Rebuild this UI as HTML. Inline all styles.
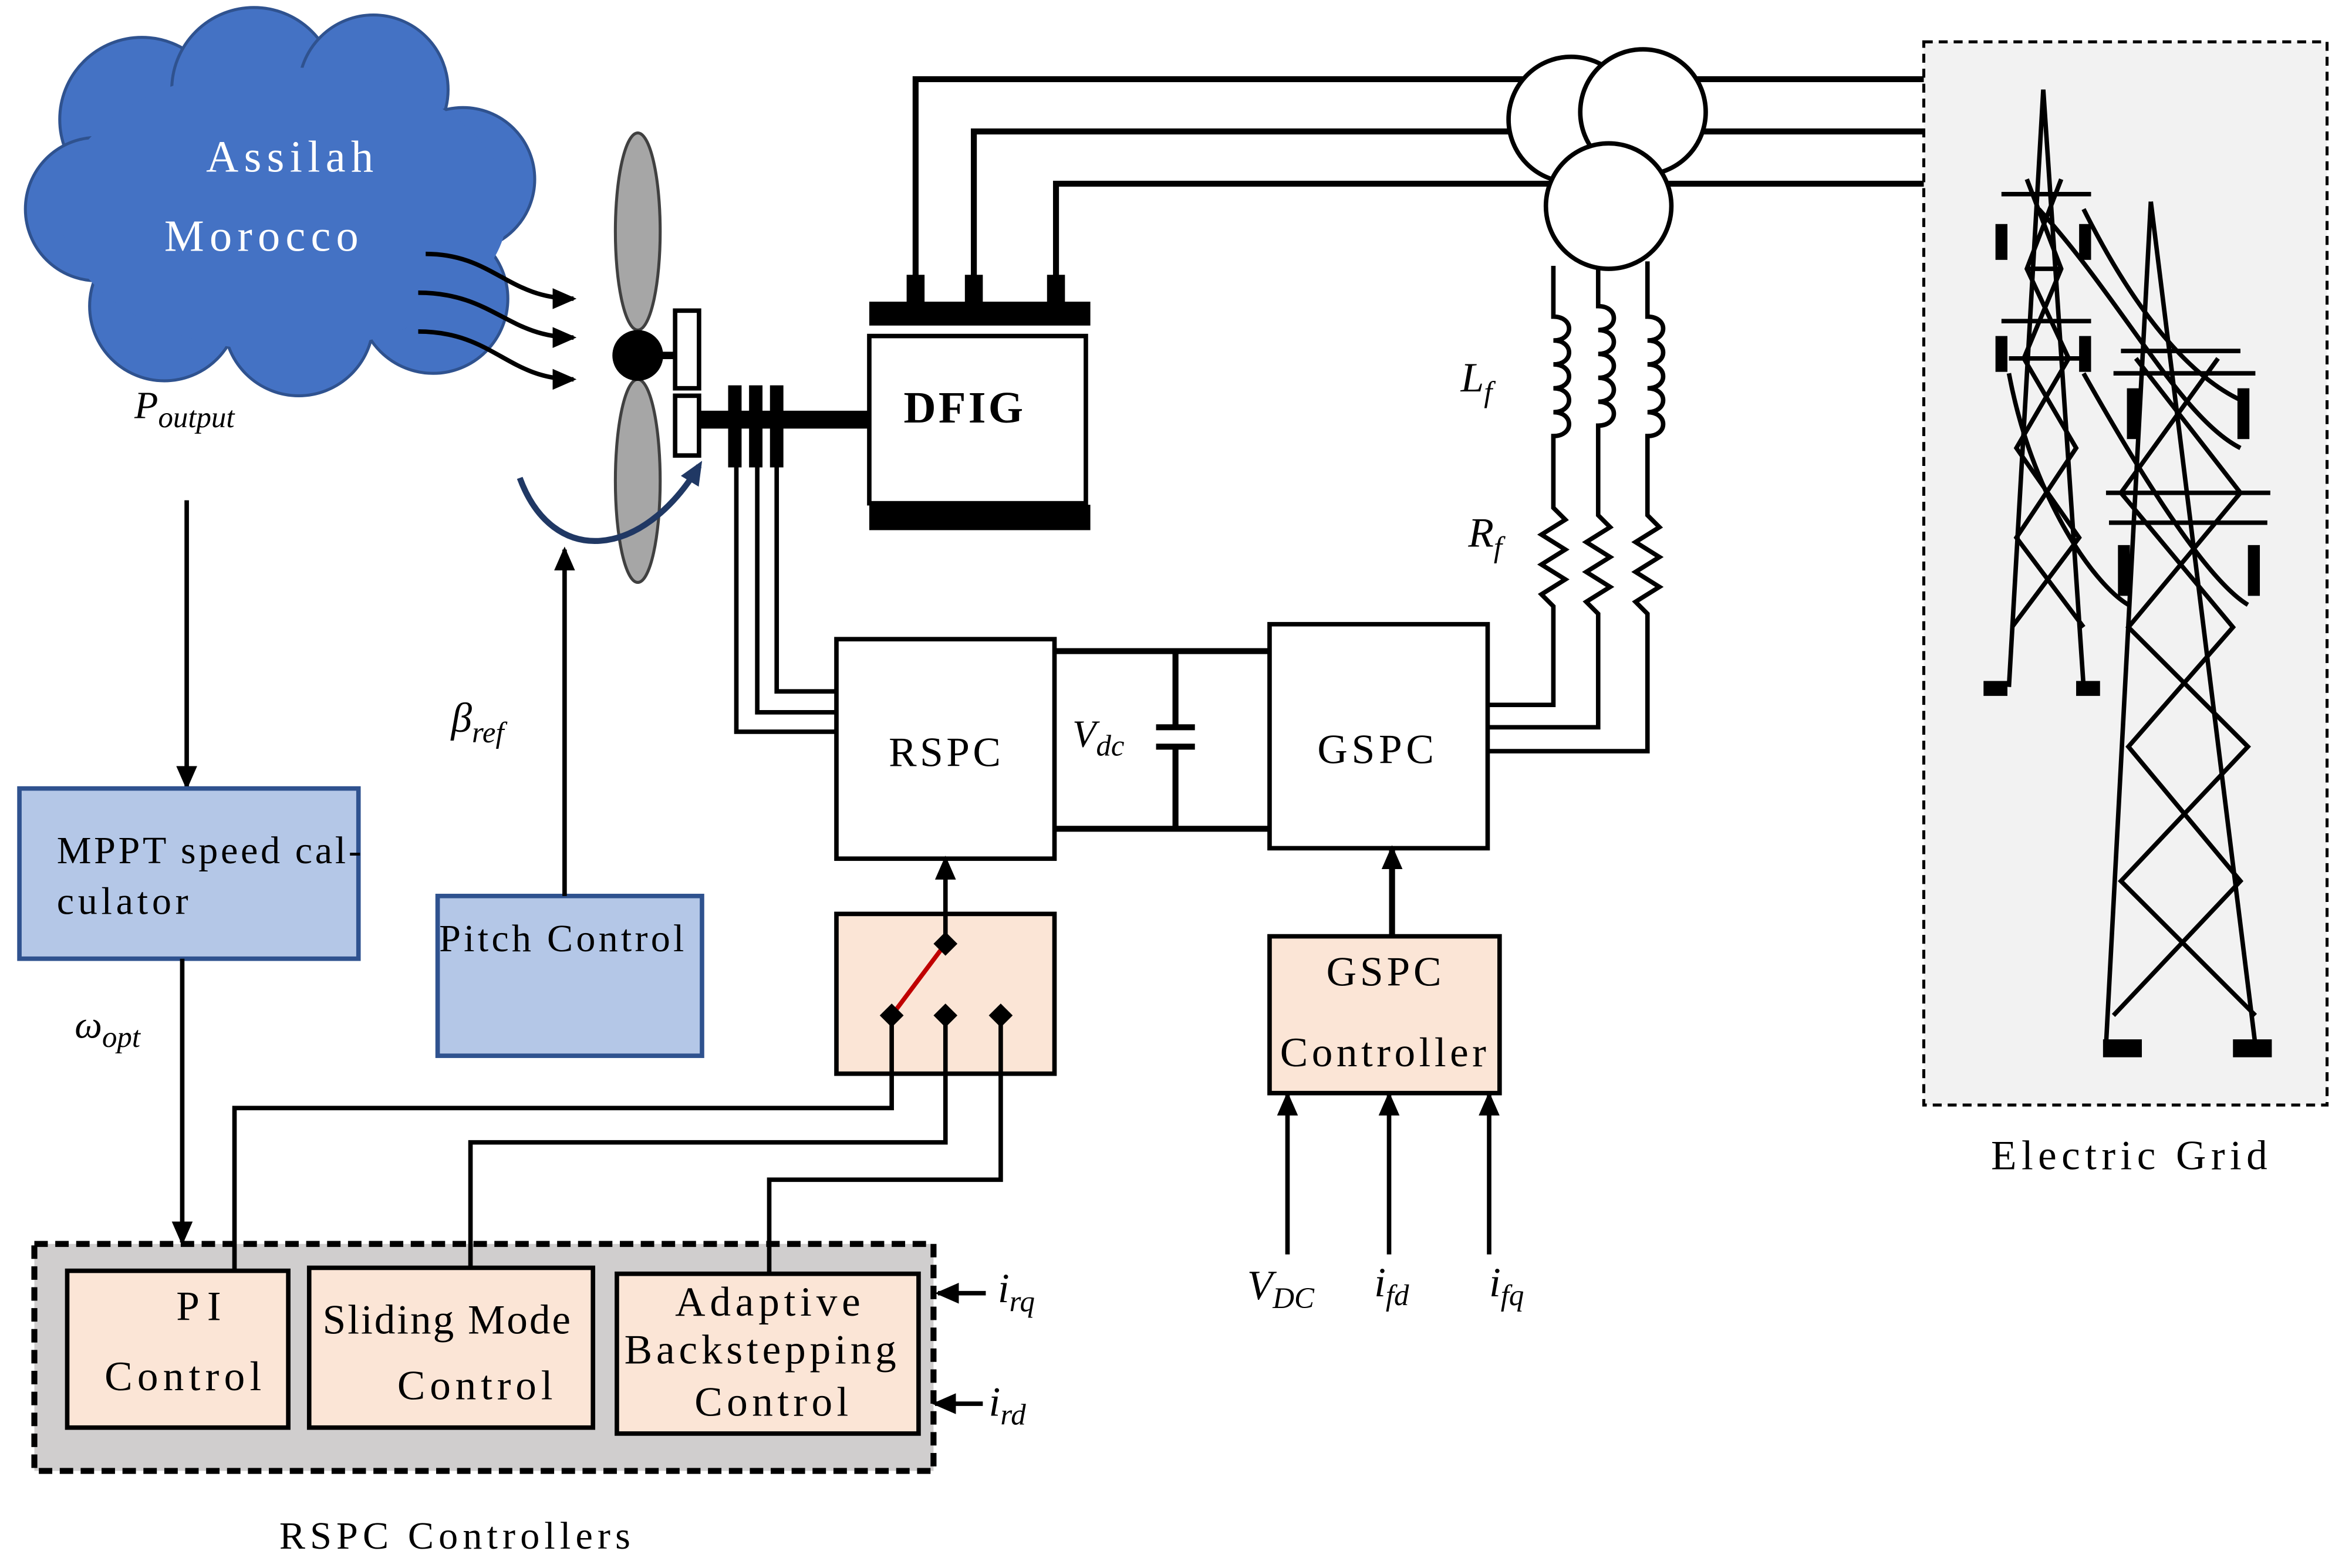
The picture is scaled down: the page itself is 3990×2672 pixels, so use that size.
<!DOCTYPE html>
<html><head><meta charset="utf-8"><style>
html,body{margin:0;padding:0;background:#fff;}
svg{display:block;}
text{font-family:"Liberation Serif",serif;fill:#000;}
.it{font-style:italic;}
</style></head><body>
<svg width="3990" height="2672" viewBox="0 0 1568 1050" xmlns="http://www.w3.org/2000/svg">
<defs>
<marker id="ah" markerWidth="16" markerHeight="14" refX="14" refY="7" orient="auto" markerUnits="userSpaceOnUse"><path d="M0,0 L16,7 L0,14 Z" fill="#000"/></marker>
<marker id="ahb" markerWidth="16" markerHeight="14" refX="12" refY="7" orient="auto" markerUnits="userSpaceOnUse"><path d="M0,0 L16,7 L0,14 Z" fill="#203864"/></marker>
</defs>
<!-- cloud -->
<g fill="#4472c4" stroke="#2f528f" stroke-width="2">
<circle cx="95" cy="80" r="55"/><circle cx="170" cy="60" r="55"/><circle cx="250" cy="60" r="50"/><circle cx="310" cy="120" r="48"/>
<circle cx="290" cy="200" r="50"/><circle cx="200" cy="215" r="50"/><circle cx="110" cy="205" r="50"/><circle cx="65" cy="140" r="48"/>
</g>
<ellipse cx="190" cy="140" rx="150" ry="95" fill="#4472c4"/>
<text x="138" y="115" font-size="30" textLength="112" style="fill:#fff">Assilah</text>
<text x="110" y="168" font-size="30" textLength="130" style="fill:#fff">Morocco</text>
<g fill="none" stroke="#000" stroke-width="3" marker-end="url(#ah)">
<path d="M285,170 C330,170 340,200 384,200"/>
<path d="M280,196 C330,196 340,226 384,226"/>
<path d="M280,222 C330,222 340,254 384,254"/>
</g>
<text x="90" y="280" font-size="26" class="it">P<tspan font-size="20" dy="6">output</tspan></text>
<line x1="125" y1="335" x2="125" y2="527" stroke="#000" stroke-width="3" marker-end="url(#ah)"/>
<rect x="13" y="528" width="227" height="114" fill="#b4c7e7" stroke="#2f528f" stroke-width="3"/>
<text x="38" y="578" font-size="26" textLength="204">MPPT speed cal-</text>
<text x="38" y="612" font-size="26" textLength="88">culator</text>
<text x="50" y="695" font-size="26" class="it">ω<tspan font-size="20" dy="6">opt</tspan></text>
<line x1="122" y1="642" x2="122" y2="832" stroke="#000" stroke-width="3" marker-end="url(#ah)"/>
<rect x="293" y="600" width="177" height="107" fill="#b4c7e7" stroke="#2f528f" stroke-width="3"/>
<text x="294" y="637" font-size="26" textLength="164">Pitch Control</text>
<line x1="378" y1="600" x2="378" y2="368" stroke="#000" stroke-width="3" marker-end="url(#ah)"/>
<text x="302" y="490" font-size="28" class="it">β<tspan font-size="20" dy="7">ref</tspan></text>
<!-- turbine -->
<ellipse cx="427" cy="155" rx="15" ry="66" fill="#a6a6a6" stroke="#404040" stroke-width="2"/>
<ellipse cx="427" cy="322" rx="15" ry="68" fill="#a6a6a6" stroke="#404040" stroke-width="2"/>
<circle cx="427" cy="238" r="17" fill="#000"/>
<line x1="440" y1="238" x2="455" y2="238" stroke="#000" stroke-width="5"/>
<rect x="452" y="208" width="16" height="52" fill="#fff" stroke="#000" stroke-width="3"/>
<rect x="452" y="265" width="16" height="40" fill="#fff" stroke="#000" stroke-width="3"/>
<path d="M348,320 C370,380 430,375 468,312" fill="none" stroke="#203864" stroke-width="4" marker-end="url(#ahb)"/>
<line x1="468" y1="281" x2="585" y2="281" stroke="#000" stroke-width="12"/>
<g stroke="#000" stroke-width="9"><line x1="492" y1="258" x2="492" y2="313"/><line x1="506" y1="258" x2="506" y2="313"/><line x1="520" y1="258" x2="520" y2="313"/></g>
<g fill="none" stroke="#000" stroke-width="3">
<polyline points="493,312 493,490 560,490"/><polyline points="507,312 507,477 560,477"/><polyline points="520,312 520,463 560,463"/>
</g>
<!-- DFIG -->
<rect x="582" y="225" width="145" height="112" fill="#fff" stroke="#000" stroke-width="3"/>
<rect x="582" y="202" width="148" height="16" fill="#000"/>
<rect x="582" y="338" width="148" height="17" fill="#000"/>
<text x="605" y="283" font-size="30" font-weight="bold" textLength="80">DFIG</text>
<g fill="#000"><rect x="607" y="184" width="12" height="20"/><rect x="646" y="184" width="12" height="20"/><rect x="701" y="184" width="12" height="20"/></g>
<g fill="none" stroke="#000" stroke-width="4">
<polyline points="613,185 613,53 1290,53"/><polyline points="652,185 652,88 1290,88"/><polyline points="707,185 707,123 1290,123"/>
</g>
<g fill="#fff" stroke="#000" stroke-width="3">
<circle cx="1052" cy="80" r="42"/><circle cx="1100" cy="75" r="42"/><circle cx="1077" cy="138" r="42"/>
</g>
<!-- grid box -->
<rect x="1288" y="28" width="270" height="712" fill="#f2f2f2" stroke="#000" stroke-width="2" stroke-dasharray="6,4"/>
<text x="1333" y="783" font-size="28" textLength="185">Electric Grid</text>
<!-- towers -->
<g fill="none" stroke="#000" stroke-width="3">
<path d="M1368,60 L1345,460 M1368,60 L1395,460 M1358,180 L1380,180 M1340,215 L1400,215 M1345,240 L1395,240"/>
<path d="M1357,120 L1380,180 L1355,240 L1390,300 L1350,360 L1395,420 M1380,120 L1357,180 L1385,240 L1350,300 L1392,360 L1347,420"/>
<line x1="1340" y1="130" x2="1400" y2="130"/>
<path d="M1440,135 L1410,700 M1440,135 L1510,700 M1420,235 L1500,235 M1415,250 L1510,250 M1410,330 L1520,330 M1412,350 L1518,350"/>
<path d="M1430,240 L1500,330 L1425,420 L1505,500 L1420,590 L1510,680 M1485,240 L1420,330 L1495,420 L1425,500 L1500,590 L1415,680"/>
<path d="M1365,140 C1420,200 1460,280 1500,300 M1345,250 C1360,330 1400,390 1425,405 M1395,250 C1440,330 1480,390 1505,405 M1395,140 C1440,230 1480,260 1505,270"/>
</g>
<g fill="#000">
<rect x="1328" y="456" width="16" height="10"/><rect x="1390" y="456" width="16" height="10"/>
<rect x="1408" y="696" width="26" height="12"/><rect x="1495" y="696" width="26" height="12"/>
<rect x="1336" y="150" width="8" height="24"/><rect x="1392" y="150" width="8" height="24"/>
<rect x="1336" y="225" width="8" height="24"/><rect x="1392" y="225" width="8" height="24"/>
<rect x="1424" y="260" width="8" height="34"/><rect x="1498" y="260" width="8" height="34"/>
<rect x="1418" y="365" width="8" height="34"/><rect x="1505" y="365" width="8" height="34"/>
</g>
<!-- filters -->
<g fill="none" stroke="#000" stroke-width="3">
<path d="M1040,178 V212 c14,0 14,16 0,16 c14,0 14,16 0,16 c14,0 14,16 0,16 c14,0 14,16 0,16 c14,0 14,16 0,16 V340 l8,8 l-16,10 l16,10 l-16,10 l16,10 l-16,10 l8,8 V472 H996"/>
<path d="M1070,180 V205 c14,0 14,16 0,16 c14,0 14,16 0,16 c14,0 14,16 0,16 c14,0 14,16 0,16 c14,0 14,16 0,16 V345 l8,8 l-16,10 l16,10 l-16,10 l16,10 l-16,10 l8,8 V487 H996"/>
<path d="M1103,175 V212 c14,0 14,16 0,16 c14,0 14,16 0,16 c14,0 14,16 0,16 c14,0 14,16 0,16 c14,0 14,16 0,16 V345 l8,8 l-16,10 l16,10 l-16,10 l16,10 l-16,10 l8,8 V503 H996"/>
</g>
<text x="978" y="262" font-size="28" class="it">L<tspan font-size="20" dy="7">f</tspan></text>
<text x="983" y="366" font-size="28" class="it">R<tspan font-size="20" dy="7">f</tspan></text>
<!-- converters -->
<rect x="560" y="428" width="146" height="147" fill="#fff" stroke="#000" stroke-width="3"/>
<text x="595" y="513" font-size="28" textLength="75">RSPC</text>
<rect x="850" y="418" width="146" height="150" fill="#fff" stroke="#000" stroke-width="3"/>
<text x="882" y="511" font-size="28" textLength="78">GSPC</text>
<g fill="none" stroke="#000" stroke-width="4">
<line x1="706" y1="436" x2="850" y2="436"/><line x1="706" y1="555" x2="850" y2="555"/>
<line x1="787" y1="436" x2="787" y2="487"/><line x1="787" y1="500" x2="787" y2="555"/>
<line x1="774" y1="487" x2="800" y2="487"/><line x1="774" y1="500" x2="800" y2="500"/>
</g>
<text x="718" y="500" font-size="26" class="it">V<tspan font-size="20" dy="6">dc</tspan></text>
<!-- switch -->
<rect x="560" y="612" width="146" height="107" fill="#fbe5d6" stroke="#000" stroke-width="3"/>
<line x1="633" y1="632" x2="633" y2="575" stroke="#000" stroke-width="3" marker-end="url(#ah)"/>
<line x1="597" y1="680" x2="633" y2="632" stroke="#c00000" stroke-width="3"/>
<g fill="#000"><path d="M633,624 l8,8 l-8,8 l-8,-8z"/><path d="M597,672 l8,8 l-8,8 l-8,-8z"/><path d="M633,672 l8,8 l-8,8 l-8,-8z"/><path d="M670,672 l8,8 l-8,8 l-8,-8z"/></g>
<!-- RSPC controllers -->
<rect x="23" y="833" width="602" height="152" fill="#d0cece" stroke="#000" stroke-width="4" stroke-dasharray="9,5"/>
<rect x="45" y="851" width="148" height="105" fill="#fbe5d6" stroke="#000" stroke-width="3"/>
<rect x="207" y="849" width="190" height="107" fill="#fbe5d6" stroke="#000" stroke-width="3"/>
<rect x="413" y="853" width="202" height="107" fill="#fbe5d6" stroke="#000" stroke-width="3"/>
<g fill="none" stroke="#000" stroke-width="3">
<polyline points="597,680 597,742 157,742 157,851"/>
<polyline points="633,680 633,765 315,765 315,849"/>
<polyline points="670,680 670,790 515,790 515,853"/>
</g>
<text x="118" y="884" font-size="28" textLength="30">PI</text>
<text x="70" y="931" font-size="28" textLength="105">Control</text>
<text x="216" y="893" font-size="28" textLength="166">Sliding Mode</text>
<text x="266" y="937" font-size="28" textLength="104">Control</text>
<text x="452" y="881" font-size="28" textLength="124">Adaptive</text>
<text x="418" y="913" font-size="28" textLength="182">Backstepping</text>
<text x="465" y="948" font-size="28" textLength="103">Control</text>
<text x="187" y="1037" font-size="26" textLength="235">RSPC Controllers</text>
<line x1="660" y1="866" x2="628" y2="866" stroke="#000" stroke-width="3" marker-end="url(#ah)"/>
<line x1="658" y1="940" x2="626" y2="940" stroke="#000" stroke-width="3" marker-end="url(#ah)"/>
<text x="668" y="872" font-size="28" class="it">i<tspan font-size="20" dy="6">rq</tspan></text>
<text x="662" y="948" font-size="28" class="it">i<tspan font-size="20" dy="6">rd</tspan></text>
<!-- GSPC controller -->
<rect x="850" y="627" width="154" height="105" fill="#fbe5d6" stroke="#000" stroke-width="3"/>
<text x="888" y="660" font-size="28" textLength="77">GSPC</text>
<text x="857" y="714" font-size="28" textLength="138">Controller</text>
<line x1="932" y1="627" x2="932" y2="568" stroke="#000" stroke-width="4" marker-end="url(#ah)"/>
<g stroke="#000" stroke-width="3">
<line x1="862" y1="840" x2="862" y2="733" marker-end="url(#ah)"/>
<line x1="930" y1="840" x2="930" y2="733" marker-end="url(#ah)"/>
<line x1="997" y1="840" x2="997" y2="733" marker-end="url(#ah)"/>
</g>
<text x="835" y="870" font-size="28" class="it">V<tspan font-size="20" dy="6">DC</tspan></text>
<text x="920" y="868" font-size="28" class="it">i<tspan font-size="20" dy="6">fd</tspan></text>
<text x="997" y="868" font-size="28" class="it">i<tspan font-size="20" dy="6">fq</tspan></text>
</svg>
</body></html>
